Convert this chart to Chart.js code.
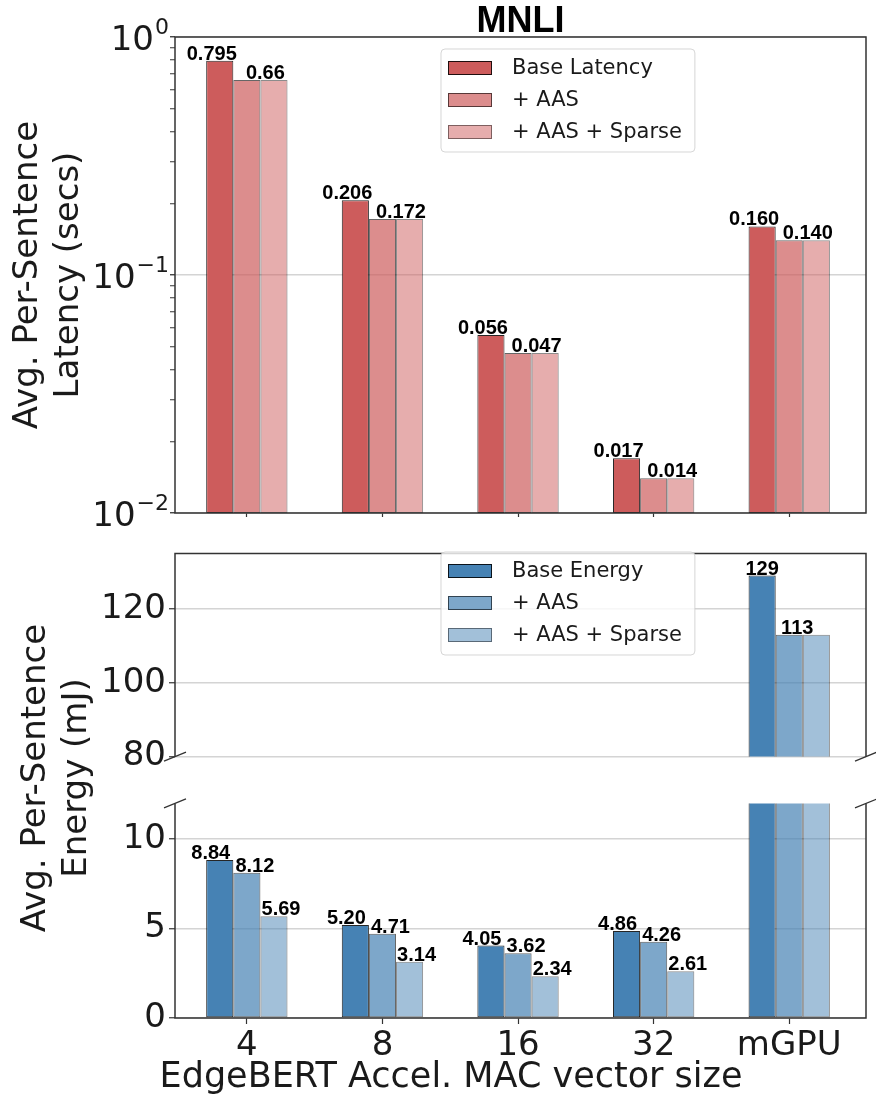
<!DOCTYPE html>
<html>
<head>
<meta charset="utf-8">
<script src="https://cdn.jsdelivr.net/npm/chart.js@4.4.1/dist/chart.umd.min.js"></script>
<style>
  body { margin: 0; background: #fff; }
  #wrap { position: relative; width: 876px; height: 1095px; overflow: hidden; }
  canvas { position: absolute; left: 0; }
  .ytitle {
    position: absolute; width: 400px; height: 82px; margin-left: -200px; margin-top: -41px;
    text-align: center; font: 34px 'DejaVu Sans', sans-serif; line-height: 41px; color: #1a1a1a;
    transform: rotate(-90deg); white-space: nowrap;
  }
</style>
</head>
<body>
<div id="wrap">
  <canvas id="latency" width="876" height="530" style="top:0"></canvas>
  <canvas id="energyHigh" width="876" height="250" style="top:530px"></canvas>
  <canvas id="energyLow" width="876" height="315" style="top:780px"></canvas>
  <div class="ytitle" style="left:46px; top:275px">Avg. Per-Sentence<br>Latency (secs)</div>
  <div class="ytitle" style="left:54px; top:778px">Avg. Per-Sentence<br>Energy (mJ)</div>
</div>
<script>
Chart.defaults.font.family = "'DejaVu Sans', sans-serif";
Chart.defaults.color = '#1a1a1a';

const categories = ['4', '8', '16', '32', 'mGPU'];
const latencyNames = ['Base Latency', '+ AAS', '+ AAS + Sparse'];
const energyNames = ['Base Energy', '+ AAS', '+ AAS + Sparse'];

// values kept as the printed strings so the bar and its label share one number
const baseLatency = ['0.795', '0.206', '0.056', '0.017', '0.160'];
const aasLatency = ['0.66', '0.172', '0.047', '0.014', '0.140'];
const sparseLatency = ['0.66', '0.172', '0.047', '0.014', '0.140'];
const baseEnergy = ['8.84', '5.20', '4.05', '4.86', '129'];
const aasEnergy = ['8.12', '4.71', '3.62', '4.26', '113'];
const sparseEnergy = ['5.69', '3.14', '2.34', '2.61', '113'];

const latencyTicks = [0.01, 0.1, 1];
const energyHighTicks = [80, 100, 120];
const energyLowTicks = [0, 5, 10];

const red = '205, 92, 92';
const blue = '70, 130, 180';
const fillAlpha = [1, 0.7, 0.5];
const edgeAlpha = [0.85, 0.6, 0.45];
const gridColor = '#d4d4d4';
const axisColor = '#333';

function makeSets(names, series, rgb) {
  return series.map((vals, i) => ({
    label: names[i],
    data: vals.map((v, j) => ({ x: j, y: Number(v), text: v })),
    backgroundColor: 'rgba(' + rgb + ', ' + fillAlpha[i] + ')',
    borderColor: 'rgba(0, 0, 0, ' + edgeAlpha[i] + ')',
    borderWidth: 1,
    borderSkipped: false,
    categoryPercentage: 0.6,
    barPercentage: 1.0,
    clip: 0
  }));
}

function isPow10(v) {
  const l = Math.log10(v);
  return Math.abs(l - Math.round(l)) < 1e-9;
}

function xAxis(show, height, tickLen, labels) {
  return {
    type: 'linear', display: show, min: -0.53, max: 4.566, offset: false, bounds: 'data',
    afterBuildTicks: s => { s.ticks = categories.map((c, i) => ({ value: i })); },
    afterFit: s => { s.height = height; },
    ticks: { display: labels, callback: v => categories[v], font: { size: 34 }, padding: 2, maxRotation: 0, autoSkip: false },
    grid: { drawOnChartArea: false, drawTicks: true, tickLength: tickLen, tickColor: axisColor, tickWidth: 1.2, offset: false },
    border: { display: false }
  };
}

function yLinear(min, max, ticks) {
  return {
    type: 'linear', min: min, max: max, bounds: 'data',
    afterBuildTicks: s => { s.ticks = ticks.map(v => ({ value: v })); },
    afterFit: s => { s.width = 175; },
    ticks: { font: { size: 34 }, padding: 3 },
    grid: { color: gridColor, lineWidth: 1.5, tickColor: axisColor, tickLength: 6, tickWidth: 1.2 },
    border: { display: false }
  };
}

// frame, broken-axis marks, titles, legend box and value labels
const decor = {
  id: 'decor',
  afterDraw(chart, args, o) {
    const ctx = chart.ctx, a = chart.chartArea;
    ctx.save();

    ctx.strokeStyle = axisColor;
    ctx.lineWidth = 1.5;
    ctx.beginPath();
    ctx.moveTo(a.left, a.top); ctx.lineTo(a.left, a.bottom);
    ctx.moveTo(a.right, a.top); ctx.lineTo(a.right, a.bottom);
    if (o.top) { ctx.moveTo(a.left - 0.75, a.top); ctx.lineTo(a.right + 0.75, a.top); }
    if (o.bottom) { ctx.moveTo(a.left - 0.75, a.bottom); ctx.lineTo(a.right + 0.75, a.bottom); }
    ctx.stroke();

    if (o.brk) {
      const y = o.brk === 'bottom' ? a.bottom : a.top;
      ctx.lineWidth = 1.2;
      ctx.beginPath();
      [a.left, a.right].forEach(x => { ctx.moveTo(x - 11, y + 4.5); ctx.lineTo(x + 11, y - 4.5); });
      ctx.stroke();
    }

    ctx.fillStyle = '#1a1a1a';
    if (o.logLabels) {
      const ys = chart.scales.y;
      ctx.textAlign = 'right';
      ctx.textBaseline = 'alphabetic';
      latencyTicks.forEach(v => {
        const y = ys.getPixelForValue(v);
        const exp = String(Math.round(Math.log10(v))).replace('-', '\u2212');
        ctx.font = "22px 'DejaVu Sans'";
        const ew = ctx.measureText(exp).width;
        ctx.fillText(exp, 169, y - 3);
        ctx.font = "34px 'DejaVu Sans'";
        ctx.fillText('10', 169 - ew - 1, y + 13);
      });
    }

    if (o.title) {
      ctx.font = "bold 36px 'Liberation Sans'";
      ctx.fillStyle = '#000';
      ctx.textAlign = 'center';
      ctx.textBaseline = 'alphabetic';
      ctx.fillText(o.title, (a.left + a.right) / 2, 32);
      ctx.fillStyle = '#1a1a1a';
    }

    if (o.xTitle) {
      ctx.font = "35px 'DejaVu Sans'";
      ctx.textAlign = 'center';
      ctx.textBaseline = 'alphabetic';
      ctx.fillText(o.xTitle.text, o.xTitle.x, o.xTitle.y);
    }

    if (o.offsets) {
      const ys = chart.scales.y;
      ctx.font = "bold 20px 'Liberation Sans'";
      ctx.textAlign = 'center';
      ctx.textBaseline = 'alphabetic';
      ctx.fillStyle = '#000';
      chart.data.datasets.forEach((ds, i) => {
        const dx = o.offsets[i];
        if (dx === null) return;
        chart.getDatasetMeta(i).data.forEach((bar, j) => {
          const v = ds.data[j].y;
          if (v < ys.min || v > ys.max) return;
          ctx.fillText(ds.data[j].text, bar.x + dx, bar.y - 1);
        });
      });
    }

    if (o.legend) {
      const L = o.legend;
      ctx.font = "21px 'DejaVu Sans'";
      const sets = chart.data.datasets;
      const tw = Math.max(...sets.map(d => ctx.measureText(d.label).width));
      const textX = L.left + 71;
      const w = textX + tw + 13 - L.left;
      ctx.beginPath();
      ctx.roundRect(L.left, L.top, w, 103, 4);
      ctx.fillStyle = 'rgba(255, 255, 255, 0.8)';
      ctx.fill();
      ctx.strokeStyle = 'rgba(204, 204, 204, 0.8)';
      ctx.lineWidth = 1;
      ctx.stroke();
      sets.forEach((d, i) => {
        const cy = L.top + 19 + 32 * i;
        ctx.fillStyle = d.backgroundColor;
        ctx.fillRect(L.left + 7, cy - 7, 44, 14);
        ctx.strokeStyle = d.borderColor;
        ctx.strokeRect(L.left + 7.5, cy - 6.5, 43, 13);
        ctx.fillStyle = '#1a1a1a';
        ctx.textAlign = 'left';
        ctx.textBaseline = 'middle';
        ctx.fillText(d.label, textX, cy + 1);
      });
    }
    ctx.restore();
  }
};

const common = {
  responsive: false,
  maintainAspectRatio: false,
  animation: false,
  events: []
};

new Chart(document.getElementById('latency'), {
  type: 'bar',
  data: { datasets: makeSets(latencyNames, [baseLatency, aasLatency, sparseLatency], red) },
  options: Object.assign({}, common, {
    layout: { padding: { top: 37, right: 10, left: 0, bottom: 0 } },
    scales: {
      x: xAxis(true, 17, 4, false),
      y: {
        type: 'logarithmic', min: 0.01, max: 1,
        afterBuildTicks: s => {
          const t = [];
          [0.01, 0.1].forEach(d => { for (let k = 1; k < 10; k++) t.push({ value: d * k }); });
          t.push({ value: 1 });
          s.ticks = t;
        },
        afterFit: s => { s.width = 175; },
        ticks: { callback: () => '' },
        grid: {
          color: c => (c.tick && isPow10(c.tick.value)) ? gridColor : 'rgba(0, 0, 0, 0)',
          lineWidth: 1.5,
          tickColor: axisColor,
          tickLength: 5,
          tickWidth: c => (c.tick && isPow10(c.tick.value)) ? 1.3 : 1
        },
        border: { display: false }
      }
    },
    plugins: {
      legend: { display: false },
      tooltip: { enabled: false },
      decor: { top: true, bottom: true, logLabels: true, title: 'MNLI', offsets: [-8, 18.5, null], legend: { left: 441, top: 49 } }
    }
  }),
  plugins: [decor]
});

new Chart(document.getElementById('energyHigh'), {
  type: 'bar',
  data: { datasets: makeSets(energyNames, [baseEnergy, aasEnergy, sparseEnergy], blue) },
  options: Object.assign({}, common, {
    layout: { padding: { top: 11, right: 10, left: 0, bottom: 11 } },
    scales: {
      x: xAxis(false, 0, 0, false),
      y: yLinear(80, 135, energyHighTicks)
    },
    plugins: {
      legend: { display: false },
      tooltip: { enabled: false },
      decor: { top: true, bottom: false, brk: 'bottom', offsets: [0, 8, null], legend: { left: 441, top: 22 } }
    }
  }),
  plugins: [decor]
});

new Chart(document.getElementById('energyLow'), {
  type: 'bar',
  data: { datasets: makeSets(energyNames, [baseEnergy, aasEnergy, sparseEnergy], blue) },
  options: Object.assign({}, common, {
    layout: { padding: { top: 8, right: 10, left: 0, bottom: 0 } },
    scales: {
      x: xAxis(true, 77, 6, true),
      y: yLinear(0, 12, energyLowTicks)
    },
    plugins: {
      legend: { display: false },
      tooltip: { enabled: false },
      decor: { top: false, bottom: true, brk: 'top', offsets: [-9, 8, 7], xTitle: { text: 'EdgeBERT Accel. MAC vector size', x: 451, y: 307 } }
    }
  }),
  plugins: [decor]
});
</script>
</body>
</html>
